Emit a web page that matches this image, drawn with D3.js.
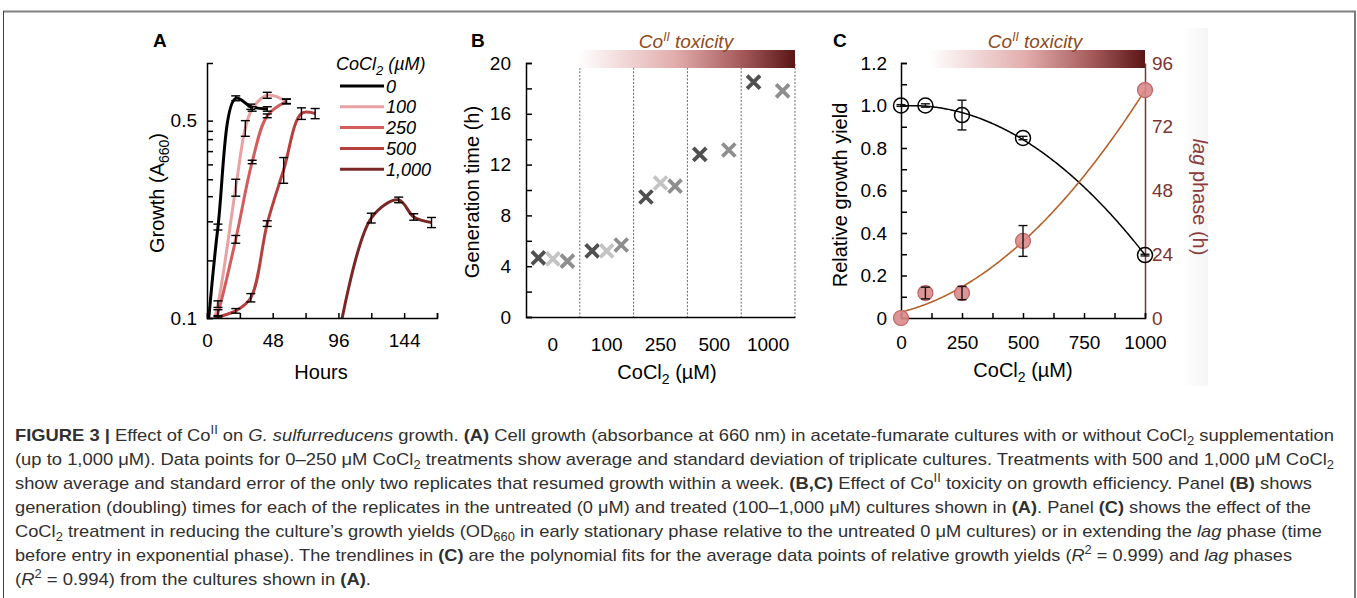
<!DOCTYPE html>
<html>
<head>
<meta charset="utf-8">
<script src="https://cdn.jsdelivr.net/npm/d3@7"></script>
<style>
  body { margin: 0; background: #fff; }
  svg { display: block; font-family: "Liberation Sans", Arial, sans-serif; }
</style>
</head>
<body>
<svg id="fig" width="1357" height="598"></svg>
<script>
// ---- Panel A: growth curves (hours, A660, error) ----
const growthConc = ["0", "100", "250", "500", "1,000"];
const hours0 = [0, 8, 21, 32, 44];
const od0 = [0.085, 0.21, 0.6, 0.56, 0.55];
const err0 = [0, 0.005, 0.012, 0.012, 0.01];
const hours100 = [0, 8, 21, 28, 33, 44, 58];
const od100 = [0.08, 0.112, 0.29, 0.47, 0.55, 0.615, 0.585];
const err100 = [0, 0.003, 0.02, 0.03, 0.01, 0.015, 0.012];
const hours250 = [0, 8, 21, 33, 44, 58];
const od250 = [0.08, 0.104, 0.19, 0.357, 0.52, 0.585];
const err250 = [0, 0.003, 0.006, 0.005, 0.008, 0.01];
const hours500 = [0, 8, 21, 32, 44, 56, 69, 79];
const od500 = [0.09, 0.1, 0.106, 0.118, 0.216, 0.335, 0.53, 0.53];
const err500 = [0, 0.002, 0.002, 0.004, 0.005, 0.035, 0.025, 0.022];
const hours1000 = [96, 120, 140, 151, 164];
const od1000 = [0.085, 0.226, 0.262, 0.228, 0.218];
const err1000 = [0, 0.009, 0.006, 0.006, 0.009];
const growthTicks = [0.1, 0.16, 0.22, 0.27, 0.31, 0.35, 0.39, 0.43, 0.46, 0.5];

// ---- Panel B: generation times per replicate ----
const genConc = ["0", "100", "250", "500", "1000"];
const genRep1 = [4.65, 5.2, 9.45, 12.8, 18.5];
const genRep2 = [4.57, 5.2, 10.55, null, null];
const genRep3 = [4.4, 5.67, 10.3, 13.15, 17.8];

// ---- Panel C: yield and lag ----
const cocl2 = [0, 100, 250, 500, 1000];
const relYield = [1.0, 1.0, 0.955, 0.847, 0.296];
const relYieldErr = [0.004, 0.008, 0.07, 0.008, 0.004];
const lagPhase = [0, 9.4, 9.4, 29, 85.8];
const lagPhaseErr = [0, 2.2, 2.5, 5.8, 0];

const lineColors = ["#000000", "#e9a2a3", "#d45c5d", "#b7403f", "#7b2727"];
const repColors = ["#505050", "#c4c4c4", "#8e8e8e"];
const maroon = "#7b3434";

const svg = d3.select("#fig");
const FONT = "Liberation Sans, Arial, sans-serif";

// rich text helper: segments of [text, style]
function rich(sel, segs, small) {
  let shift = 0;
  segs.forEach(([t, s]) => {
    const ts = sel.append("tspan").text(t);
    const target = s === "sup" ? -small * 0.55 : s === "sub" ? small * 0.35 : 0;
    ts.attr("dy", target - shift);
    shift = target;
    if (s === "b") ts.attr("font-weight", "bold");
    if (s === "i") ts.attr("font-style", "italic");
    if (s === "sup" || s === "sub") ts.attr("font-size", small);
  });
  return sel;
}

function styleAxis(g, color) {
  g.attr("font-family", FONT).attr("font-size", 19);
  g.selectAll("path, line").attr("stroke", color || "#000").attr("stroke-width", 1.5);
  g.selectAll("text").attr("fill", color || "#000");
}

// frame
svg.append("line").attr("x1", 3).attr("x2", 1356).attr("y1", 11.5).attr("y2", 11.5).attr("stroke", "#808080").attr("stroke-width", 2);
svg.append("line").attr("x1", 3.5).attr("x2", 3.5).attr("y1", 11).attr("y2", 598).attr("stroke", "#444").attr("stroke-width", 1);
svg.append("line").attr("x1", 1355).attr("x2", 1355).attr("y1", 11).attr("y2", 598).attr("stroke", "#7a7a7a").attr("stroke-width", 2);

const defs = svg.append("defs");
const tox = defs.append("linearGradient").attr("id", "tox");
[[0, "#ffffff"], [0.45, "#e2acac"], [0.75, "#a65b5b"], [1, "#5a1515"]].forEach(([o, c]) =>
  tox.append("stop").attr("offset", o).attr("stop-color", c));
const strip = defs.append("linearGradient").attr("id", "strip");
[[0, "#ffffff"], [1, "#f5f5f5"]].forEach(([o, c]) =>
  strip.append("stop").attr("offset", o).attr("stop-color", c));
svg.append("rect").attr("x", 1182).attr("y", 28).attr("width", 26).attr("height", 358).attr("fill", "url(#strip)");

// panel letters
[["A", 153], ["B", 471], ["C", 833]].forEach(([t, x]) =>
  svg.append("text").attr("x", x).attr("y", 47).attr("font-weight", "bold").attr("font-size", 19).text(t));

// ================= Panel A =================
const xA = d3.scaleLinear().domain([0, 168]).range([207, 437]);
const yA = d3.scaleLog().domain([0.1, 0.8]).range([318, 63]);

defs.append("clipPath").attr("id", "clipA").append("rect")
  .attr("x", 207).attr("y", 63).attr("width", 240).attr("height", 255);

const seriesA = [
  [hours0, od0, err0], [hours100, od100, err100], [hours250, od250, err250],
  [hours500, od500, err500], [hours1000, od1000, err1000]
].map(([h, v, e], i) => ({ conc: growthConc[i], color: lineColors[i], pts: h.map((t, j) => ({ t, v: v[j], e: e[j] })) }));

const lineA = d3.line().x(d => xA(d.t)).y(d => yA(d.v)).curve(d3.curveCatmullRom.alpha(0.5));
const gA = svg.append("g").attr("clip-path", "url(#clipA)");
gA.selectAll("path.curve").data(seriesA).join("path")
  .attr("d", d => lineA(d.pts)).attr("fill", "none")
  .attr("stroke", d => d.color).attr("stroke-width", 3);

const barsA = seriesA.flatMap(s => s.pts.filter(p => p.e > 0));
const eb = gA.selectAll("g.eb").data(barsA).join("g").attr("stroke", "#000").attr("stroke-width", 1.4);
eb.append("line").attr("x1", d => xA(d.t)).attr("x2", d => xA(d.t)).attr("y1", d => yA(d.v - d.e)).attr("y2", d => yA(d.v + d.e));
eb.append("line").attr("x1", d => xA(d.t) - 4.5).attr("x2", d => xA(d.t) + 4.5).attr("y1", d => yA(d.v - d.e)).attr("y2", d => yA(d.v - d.e));
eb.append("line").attr("x1", d => xA(d.t) - 4.5).attr("x2", d => xA(d.t) + 4.5).attr("y1", d => yA(d.v + d.e)).attr("y2", d => yA(d.v + d.e));

svg.append("g").attr("transform", "translate(207,0)")
  .call(d3.axisLeft(yA).tickValues(growthTicks).tickFormat(d => (d === 0.1 || d === 0.5) ? d : "").tickSize(-6).tickPadding(10))
  .call(g => styleAxis(g));
svg.append("g").attr("transform", "translate(0,318)")
  .call(d3.axisBottom(xA).tickValues(d3.range(0, 169, 24)).tickFormat(d => d % 48 === 0 ? d : "").tickSize(-5).tickPadding(15.5))
  .call(g => styleAxis(g));

rich(svg.append("text").attr("transform", "translate(164,193) rotate(-90)").attr("text-anchor", "middle")
  .attr("dy", "0.35em").attr("font-size", 20), [["Growth (A", ""], ["660", "sub"], [")", ""]], 14);
svg.append("text").attr("x", 321).attr("y", 379).attr("text-anchor", "middle").attr("font-size", 20).text("Hours");

// legend
rich(svg.append("text").attr("x", 336).attr("y", 70).attr("font-size", 18).attr("font-style", "italic"),
  [["CoCl", ""], ["2", "sub"], [" (\u00b5M)", ""]], 13);
const leg = svg.append("g").selectAll("g").data(seriesA).join("g")
  .attr("transform", (d, i) => `translate(0,${86 + i * 20.8})`);
leg.append("line").attr("x1", 340).attr("x2", 384).attr("stroke", d => d.color).attr("stroke-width", 3);
leg.append("text").attr("x", 386).attr("y", 6.5).attr("font-size", 18).attr("font-style", "italic").text(d => d.conc);

// ================= Panel B =================
const xB = d3.scaleBand().domain(genConc).range([526, 795]);
const repX = d3.scalePoint().domain([0, 1, 2]).range([0, xB.bandwidth()]).padding(0.85);
const yB = d3.scaleLinear().domain([0, 20]).range([317, 63]);

svg.append("g").selectAll("line").data(genConc).join("line")
  .attr("x1", d => xB(d) + xB.bandwidth()).attr("x2", d => xB(d) + xB.bandwidth())
  .attr("y1", 64).attr("y2", 317).attr("stroke", "#666").attr("stroke-width", 1).attr("stroke-dasharray", "2,1.6");

svg.append("g").attr("transform", "translate(526,0)")
  .call(d3.axisLeft(yB).tickValues(d3.range(0, 21, 2)).tickFormat(d => d % 4 === 0 ? d : "").tickSize(-6).tickPadding(15))
  .call(g => styleAxis(g));
svg.append("g").attr("transform", "translate(0,317)")
  .call(d3.axisBottom(xB).tickSize(0).tickPadding(20.5))
  .call(g => styleAxis(g));

const genPts = [genRep1, genRep2, genRep3].flatMap((arr, r) =>
  arr.map((v, i) => ({ c: genConc[i], r, v })).filter(d => d.v != null));
svg.append("g").selectAll("path").data(genPts).join("path")
  .attr("transform", d => `translate(${xB(d.c) + repX(d.r)},${yB(d.v)})`)
  .attr("d", "M-6.5,-6.5L6.5,6.5M-6.5,6.5L6.5,-6.5")
  .attr("stroke", d => repColors[d.r]).attr("stroke-width", 3.8).attr("fill", "none");

svg.append("rect").attr("x", 578).attr("y", 50).attr("width", 217).attr("height", 18).attr("fill", "url(#tox)");
rich(svg.append("text").attr("x", 686).attr("y", 48).attr("text-anchor", "middle").attr("font-size", 19)
  .attr("font-style", "italic").attr("fill", "#8f4a22"), [["Co", ""], ["II", "sup"], [" toxicity", ""]], 12);

rich(svg.append("text").attr("transform", "translate(479,192) rotate(-90)").attr("text-anchor", "middle")
  .attr("dy", "0.35em").attr("font-size", 20), [["Generation time (h)", ""]], 14);
rich(svg.append("text").attr("x", 667).attr("y", 379).attr("text-anchor", "middle").attr("font-size", 20),
  [["CoCl", ""], ["2", "sub"], [" (\u00b5M)", ""]], 14);

// ================= Panel C =================
const xC = d3.scaleLinear().domain([0, 1000]).range([901, 1145]);
const yC = d3.scaleLinear().domain([0, 1.2]).range([318, 63]);
const yC2 = d3.scaleLinear().domain([0, 96]).range([318, 63]);

svg.append("rect").attr("x", 929).attr("y", 50).attr("width", 216).attr("height", 18).attr("fill", "url(#tox)");
rich(svg.append("text").attr("x", 1035).attr("y", 48).attr("text-anchor", "middle").attr("font-size", 19)
  .attr("font-style", "italic").attr("fill", "#8f4a22"), [["Co", ""], ["II", "sup"], [" toxicity", ""]], 12);

svg.append("g").attr("transform", "translate(901,0)")
  .call(d3.axisLeft(yC).tickValues(d3.range(0, 13).map(i => i / 10))
    .tickFormat((d, i) => i % 2 ? "" : (d === 0 ? "0" : d.toFixed(1))).tickSize(-6).tickPadding(14))
  .call(g => styleAxis(g));
svg.append("g").attr("transform", "translate(1145,0)")
  .call(d3.axisRight(yC2).tickValues([0, 24, 48, 72, 96]).tickSize(0).tickPadding(7))
  .call(g => styleAxis(g, maroon));
svg.append("g").attr("transform", "translate(0,318)")
  .call(d3.axisBottom(xC).tickValues(d3.range(0, 1001, 125)).tickFormat(d => d % 250 === 0 ? d : "").tickSize(-5).tickPadding(17.5))
  .call(g => styleAxis(g));

// quadratic least-squares trendline from the plotted averages
function fit2(xs, ys) {
  const u = xs.map(x => x / 1000);
  const S = k => d3.sum(u, x => x ** k);
  const T = k => d3.sum(u, (x, i) => x ** k * ys[i]);
  const M = [[S(0), S(1), S(2)], [S(1), S(2), S(3)], [S(2), S(3), S(4)]];
  const b = [T(0), T(1), T(2)];
  const det = m => m[0][0] * (m[1][1] * m[2][2] - m[1][2] * m[2][1])
    - m[0][1] * (m[1][0] * m[2][2] - m[1][2] * m[2][0]) + m[0][2] * (m[1][0] * m[2][1] - m[1][1] * m[2][0]);
  const D = det(M);
  const c = [0, 1, 2].map(k => det(M.map((row, r) => row.map((v, j) => j === k ? b[r] : v))) / D);
  return x => c[0] + c[1] * (x / 1000) + c[2] * (x / 1000) ** 2;
}
const fitYield = fit2(cocl2, relYield);
const fitLag = fit2(cocl2, lagPhase);
const xs = d3.range(0, 1001, 5);
svg.append("path").attr("d", d3.line().x(x => xC(x)).y(x => yC(fitYield(x)))(xs))
  .attr("fill", "none").attr("stroke", "#000").attr("stroke-width", 1.5);
svg.append("path").attr("d", d3.line().x(x => xC(x)).y(x => yC2(fitLag(x)))(xs))
  .attr("fill", "none").attr("stroke", "#b5622a").attr("stroke-width", 1.6);

const yieldPts = cocl2.map((c, i) => ({ c, v: relYield[i], e: relYieldErr[i] }));
const lagPts = cocl2.map((c, i) => ({ c, v: lagPhase[i], e: lagPhaseErr[i] }));

svg.append("g").selectAll("circle").data(lagPts).join("circle")
  .attr("cx", d => xC(d.c)).attr("cy", d => yC2(d.v)).attr("r", 7.5)
  .attr("fill", "#d98a8a").attr("fill-opacity", 0.9).attr("stroke", "#c06464").attr("stroke-width", 1.2);
svg.append("g").selectAll("circle").data(yieldPts).join("circle")
  .attr("cx", d => xC(d.c)).attr("cy", d => yC(d.v)).attr("r", 7.5)
  .attr("fill", "none").attr("stroke", "#000").attr("stroke-width", 1.5);

function errBars(pts, y) {
  const g = svg.append("g").selectAll("g").data(pts.filter(d => d.e > 0)).join("g")
    .attr("stroke", "#111").attr("stroke-width", 1.4);
  g.append("line").attr("x1", d => xC(d.c)).attr("x2", d => xC(d.c)).attr("y1", d => y(d.v - d.e)).attr("y2", d => y(d.v + d.e));
  [-1, 1].forEach(s => g.append("line").attr("x1", d => xC(d.c) - 4.5).attr("x2", d => xC(d.c) + 4.5)
    .attr("y1", d => y(d.v + s * d.e)).attr("y2", d => y(d.v + s * d.e)));
}
errBars(yieldPts, yC);
errBars(lagPts, yC2);

rich(svg.append("text").attr("transform", "translate(847,195) rotate(-90)").attr("text-anchor", "middle")
  .attr("dy", "0.35em").attr("font-size", 20), [["Relative growth yield", ""]], 14);
rich(svg.append("text").attr("transform", "translate(1193,197) rotate(90)").attr("text-anchor", "middle")
  .attr("dy", "0.35em").attr("font-size", 20).attr("fill", "#8a3b3b"), [["lag", "i"], [" phase (h)", ""]], 14);
rich(svg.append("text").attr("x", 1023).attr("y", 377).attr("text-anchor", "middle").attr("font-size", 20),
  [["CoCl", ""], ["2", "sub"], [" (\u00b5M)", ""]], 14);

// ================= Caption =================
const captionLines = [
  [["FIGURE 3 | ", "b"], ["Effect of Co", ""], ["II", "sup"], [" on ", ""], ["G. sulfurreducens", "i"], [" growth. ", ""], ["(A)", "b"],
   [" Cell growth (absorbance at 660 nm) in acetate-fumarate cultures with or without CoCl", ""], ["2", "sub"], [" supplementation", ""]],
  [["(up to 1,000 \u03bcM). Data points for 0\u2013250 \u03bcM CoCl", ""], ["2", "sub"],
   [" treatments show average and standard deviation of triplicate cultures. Treatments with 500 and 1,000 \u03bcM CoCl", ""], ["2", "sub"]],
  [["show average and standard error of the only two replicates that resumed growth within a week. ", ""], ["(B,C)", "b"],
   [" Effect of Co", ""], ["II", "sup"], [" toxicity on growth efficiency. Panel ", ""], ["(B)", "b"], [" shows", ""]],
  [["generation (doubling) times for each of the replicates in the untreated (0 \u03bcM) and treated (100\u20131,000 \u03bcM) cultures shown in ", ""],
   ["(A)", "b"], [". Panel ", ""], ["(C)", "b"], [" shows the effect of the", ""]],
  [["CoCl", ""], ["2", "sub"], [" treatment in reducing the culture\u2019s growth yields (OD", ""], ["660", "sub"],
   [" in early stationary phase relative to the untreated 0 \u03bcM cultures) or in extending the ", ""], ["lag", "i"], [" phase (time", ""]],
  [["before entry in exponential phase). The trendlines in ", ""], ["(C)", "b"],
   [" are the polynomial fits for the average data points of relative growth yields (", ""], ["R", "i"], ["2", "sup"],
   [" = 0.999) and ", ""], ["lag", "i"], [" phases", ""]],
  [["(", ""], ["R", "i"], ["2", "sup"], [" = 0.994) from the cultures shown in ", ""], ["(A)", "b"], [".", ""]]
];
const captionWidths = [1319, 1319, 1297, 1296, 1307, 1277, 356];
captionLines.forEach((segs, i) => {
  const t = svg.append("text").attr("x", 15).attr("y", 441 + i * 24)
    .attr("font-size", 17).attr("fill", "#303030")
    .attr("textLength", captionWidths[i]).attr("lengthAdjust", "spacingAndGlyphs");
  rich(t, segs, 12);
});
</script>
</body>
</html>
